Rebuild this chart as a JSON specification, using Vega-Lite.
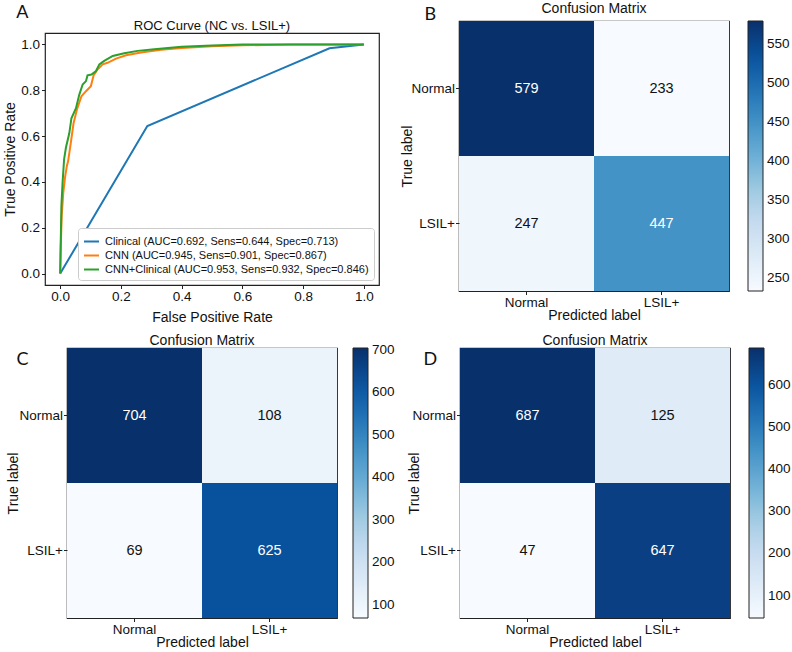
{
"$schema": "https://vega.github.io/schema/vega-lite/v6.json",
"background": "white",
"padding": {"left": 3, "top": 1, "right": 0, "bottom": 0},
"config": {
  "font": "Liberation Sans",
  "view": {"stroke": "#222", "strokeWidth": 1.2},
  "axis": {"grid": false, "domain": false, "tickColor": "#222", "tickSize": 3.5, "labelFontSize": 13.5, "labelColor": "#111", "titleFontSize": 14, "titleFontWeight": "normal", "titleColor": "#111", "labelPadding": 1, "titlePadding": 1},
  "title": {"fontSize": 14, "fontWeight": "normal", "color": "#111"},
  "legend": {"labelFontSize": 13.5, "labelColor": "#111"}
},
"datasets": {
  "spacer": [],
  "roc": [
    {"model": "Clinical (AUC=0.692, Sens=0.644, Spec=0.713)", "i": 0, "fpr": 0, "tpr": 0},
    {"model": "Clinical (AUC=0.692, Sens=0.644, Spec=0.713)", "i": 1, "fpr": 0.287, "tpr": 0.644},
    {"model": "Clinical (AUC=0.692, Sens=0.644, Spec=0.713)", "i": 2, "fpr": 0.887, "tpr": 0.983},
    {"model": "Clinical (AUC=0.692, Sens=0.644, Spec=0.713)", "i": 3, "fpr": 1, "tpr": 1},
    {"model": "CNN (AUC=0.945, Sens=0.901, Spec=0.867)", "i": 0, "fpr": 0, "tpr": 0},
    {"model": "CNN (AUC=0.945, Sens=0.901, Spec=0.867)", "i": 1, "fpr": 0.002, "tpr": 0.12},
    {"model": "CNN (AUC=0.945, Sens=0.901, Spec=0.867)", "i": 2, "fpr": 0.005, "tpr": 0.25},
    {"model": "CNN (AUC=0.945, Sens=0.901, Spec=0.867)", "i": 3, "fpr": 0.01, "tpr": 0.35},
    {"model": "CNN (AUC=0.945, Sens=0.901, Spec=0.867)", "i": 4, "fpr": 0.016, "tpr": 0.42},
    {"model": "CNN (AUC=0.945, Sens=0.901, Spec=0.867)", "i": 5, "fpr": 0.022, "tpr": 0.47},
    {"model": "CNN (AUC=0.945, Sens=0.901, Spec=0.867)", "i": 6, "fpr": 0.026, "tpr": 0.49},
    {"model": "CNN (AUC=0.945, Sens=0.901, Spec=0.867)", "i": 7, "fpr": 0.035, "tpr": 0.57},
    {"model": "CNN (AUC=0.945, Sens=0.901, Spec=0.867)", "i": 8, "fpr": 0.044, "tpr": 0.656},
    {"model": "CNN (AUC=0.945, Sens=0.901, Spec=0.867)", "i": 9, "fpr": 0.055, "tpr": 0.715},
    {"model": "CNN (AUC=0.945, Sens=0.901, Spec=0.867)", "i": 10, "fpr": 0.07, "tpr": 0.774},
    {"model": "CNN (AUC=0.945, Sens=0.901, Spec=0.867)", "i": 11, "fpr": 0.085, "tpr": 0.796},
    {"model": "CNN (AUC=0.945, Sens=0.901, Spec=0.867)", "i": 12, "fpr": 0.101, "tpr": 0.818},
    {"model": "CNN (AUC=0.945, Sens=0.901, Spec=0.867)", "i": 13, "fpr": 0.11, "tpr": 0.865},
    {"model": "CNN (AUC=0.945, Sens=0.901, Spec=0.867)", "i": 14, "fpr": 0.123, "tpr": 0.891},
    {"model": "CNN (AUC=0.945, Sens=0.901, Spec=0.867)", "i": 15, "fpr": 0.14, "tpr": 0.913},
    {"model": "CNN (AUC=0.945, Sens=0.901, Spec=0.867)", "i": 16, "fpr": 0.156, "tpr": 0.92},
    {"model": "CNN (AUC=0.945, Sens=0.901, Spec=0.867)", "i": 17, "fpr": 0.184, "tpr": 0.938},
    {"model": "CNN (AUC=0.945, Sens=0.901, Spec=0.867)", "i": 18, "fpr": 0.217, "tpr": 0.953},
    {"model": "CNN (AUC=0.945, Sens=0.901, Spec=0.867)", "i": 19, "fpr": 0.266, "tpr": 0.965},
    {"model": "CNN (AUC=0.945, Sens=0.901, Spec=0.867)", "i": 20, "fpr": 0.332, "tpr": 0.977},
    {"model": "CNN (AUC=0.945, Sens=0.901, Spec=0.867)", "i": 21, "fpr": 0.4, "tpr": 0.984},
    {"model": "CNN (AUC=0.945, Sens=0.901, Spec=0.867)", "i": 22, "fpr": 0.5, "tpr": 0.992},
    {"model": "CNN (AUC=0.945, Sens=0.901, Spec=0.867)", "i": 23, "fpr": 0.6, "tpr": 0.996},
    {"model": "CNN (AUC=0.945, Sens=0.901, Spec=0.867)", "i": 24, "fpr": 0.76, "tpr": 1},
    {"model": "CNN (AUC=0.945, Sens=0.901, Spec=0.867)", "i": 25, "fpr": 1, "tpr": 1},
    {"model": "CNN+Clinical (AUC=0.953, Sens=0.932, Spec=0.846)", "i": 0, "fpr": 0, "tpr": 0},
    {"model": "CNN+Clinical (AUC=0.953, Sens=0.932, Spec=0.846)", "i": 1, "fpr": 0.002, "tpr": 0.15},
    {"model": "CNN+Clinical (AUC=0.953, Sens=0.932, Spec=0.846)", "i": 2, "fpr": 0.004, "tpr": 0.296},
    {"model": "CNN+Clinical (AUC=0.953, Sens=0.932, Spec=0.846)", "i": 3, "fpr": 0.008, "tpr": 0.4},
    {"model": "CNN+Clinical (AUC=0.953, Sens=0.932, Spec=0.846)", "i": 4, "fpr": 0.013, "tpr": 0.5},
    {"model": "CNN+Clinical (AUC=0.953, Sens=0.932, Spec=0.846)", "i": 5, "fpr": 0.019, "tpr": 0.55},
    {"model": "CNN+Clinical (AUC=0.953, Sens=0.932, Spec=0.846)", "i": 6, "fpr": 0.03, "tpr": 0.612},
    {"model": "CNN+Clinical (AUC=0.953, Sens=0.932, Spec=0.846)", "i": 7, "fpr": 0.037, "tpr": 0.678},
    {"model": "CNN+Clinical (AUC=0.953, Sens=0.932, Spec=0.846)", "i": 8, "fpr": 0.052, "tpr": 0.722},
    {"model": "CNN+Clinical (AUC=0.953, Sens=0.932, Spec=0.846)", "i": 9, "fpr": 0.063, "tpr": 0.781},
    {"model": "CNN+Clinical (AUC=0.953, Sens=0.932, Spec=0.846)", "i": 10, "fpr": 0.074, "tpr": 0.825},
    {"model": "CNN+Clinical (AUC=0.953, Sens=0.932, Spec=0.846)", "i": 11, "fpr": 0.085, "tpr": 0.84},
    {"model": "CNN+Clinical (AUC=0.953, Sens=0.932, Spec=0.846)", "i": 12, "fpr": 0.09, "tpr": 0.865},
    {"model": "CNN+Clinical (AUC=0.953, Sens=0.932, Spec=0.846)", "i": 13, "fpr": 0.103, "tpr": 0.869},
    {"model": "CNN+Clinical (AUC=0.953, Sens=0.932, Spec=0.846)", "i": 14, "fpr": 0.118, "tpr": 0.884},
    {"model": "CNN+Clinical (AUC=0.953, Sens=0.932, Spec=0.846)", "i": 15, "fpr": 0.129, "tpr": 0.913},
    {"model": "CNN+Clinical (AUC=0.953, Sens=0.932, Spec=0.846)", "i": 16, "fpr": 0.145, "tpr": 0.928},
    {"model": "CNN+Clinical (AUC=0.953, Sens=0.932, Spec=0.846)", "i": 17, "fpr": 0.173, "tpr": 0.95},
    {"model": "CNN+Clinical (AUC=0.953, Sens=0.932, Spec=0.846)", "i": 18, "fpr": 0.211, "tpr": 0.962},
    {"model": "CNN+Clinical (AUC=0.953, Sens=0.932, Spec=0.846)", "i": 19, "fpr": 0.255, "tpr": 0.972},
    {"model": "CNN+Clinical (AUC=0.953, Sens=0.932, Spec=0.846)", "i": 20, "fpr": 0.31, "tpr": 0.979},
    {"model": "CNN+Clinical (AUC=0.953, Sens=0.932, Spec=0.846)", "i": 21, "fpr": 0.4, "tpr": 0.99},
    {"model": "CNN+Clinical (AUC=0.953, Sens=0.932, Spec=0.846)", "i": 22, "fpr": 0.5, "tpr": 0.995},
    {"model": "CNN+Clinical (AUC=0.953, Sens=0.932, Spec=0.846)", "i": 23, "fpr": 0.6, "tpr": 1},
    {"model": "CNN+Clinical (AUC=0.953, Sens=0.932, Spec=0.846)", "i": 24, "fpr": 1, "tpr": 1}
  ],
  "b": [
    {"truth": "Normal", "pred": "Normal", "v": 579},
    {"truth": "Normal", "pred": "LSIL+", "v": 233},
    {"truth": "LSIL+", "pred": "Normal", "v": 247},
    {"truth": "LSIL+", "pred": "LSIL+", "v": 447}
  ],
  "c": [
    {"truth": "Normal", "pred": "Normal", "v": 704},
    {"truth": "Normal", "pred": "LSIL+", "v": 108},
    {"truth": "LSIL+", "pred": "Normal", "v": 69},
    {"truth": "LSIL+", "pred": "LSIL+", "v": 625}
  ],
  "d": [
    {"truth": "Normal", "pred": "Normal", "v": 687},
    {"truth": "Normal", "pred": "LSIL+", "v": 125},
    {"truth": "LSIL+", "pred": "Normal", "v": 47},
    {"truth": "LSIL+", "pred": "LSIL+", "v": 647}
  ]
},
"columns": 1,
"align": "none",
"resolve": {"scale": {"color": "independent"}, "legend": {"color": "independent"}},
"spacing": 8,
"concat": [
  {
    "title": {"text": "A", "anchor": "start", "fontSize": 18, "font": "Lato", "dx": 13, "dy": 21, "offset": 0},
    "spacing": 20,
    "align": "none",
    "resolve": {"scale": {"color": "independent"}, "legend": {"color": "independent"}},
    "hconcat": [
      {
        "spacing": -65,
        "align": "none",
        "resolve": {"scale": {"color": "independent"}, "legend": {"color": "independent"}},
        "hconcat": [
          {"width": 1, "height": 1, "view": {"stroke": null}, "data": {"name": "spacer"}, "mark": "point"},
          {
            "title": {"text": "ROC Curve (NC vs. LSIL+)", "fontSize": 13, "offset": 0},
            "width": 334, "height": 252,
            "data": {"name": "roc"},
            "mark": {"type": "line", "strokeWidth": 2},
            "encoding": {
              "x": {"field": "fpr", "type": "quantitative", "scale": {"domain": [-0.05, 1.05], "nice": false, "zero": false}, "axis": {"values": [0, 0.2, 0.4, 0.6, 0.8, 1], "format": ".1f", "title": "False Positive Rate", "titlePadding": 7}},
              "y": {"field": "tpr", "type": "quantitative", "scale": {"domain": [-0.05, 1.05], "nice": false, "zero": false}, "axis": {"values": [0, 0.2, 0.4, 0.6, 0.8, 1], "format": ".1f", "title": "True Positive Rate", "titlePadding": 3, "labelPadding": 2}},
              "color": {"field": "model", "type": "nominal",
                "scale": {"domain": ["Clinical (AUC=0.692, Sens=0.644, Spec=0.713)", "CNN (AUC=0.945, Sens=0.901, Spec=0.867)", "CNN+Clinical (AUC=0.953, Sens=0.932, Spec=0.846)"], "range": ["#1f77b4", "#ff7f0e", "#2ca02c"]},
                "legend": {"title": null, "orient": "bottom-right", "offset": 5, "symbolType": "stroke", "symbolStrokeWidth": 2, "symbolSize": 225, "labelFontSize": 11, "rowPadding": 0, "padding": 5, "strokeColor": "#ccc", "fillColor": "white", "cornerRadius": 3, "labelLimit": 400, "labelOffset": 5}},
              "order": {"field": "i", "type": "quantitative"}
            }
          }
        ]
      },
      {
        "title": {"text": "B", "anchor": "start", "fontSize": 18, "font": "Lato", "dx": 24, "dy": 23, "offset": 0},
        "spacing": -33,
        "align": "none",
        "resolve": {"scale": {"color": "independent"}, "legend": {"color": "independent"}},
        "vconcat": [
          {"width": 1, "height": 1, "view": {"stroke": null}, "data": {"name": "spacer"}, "mark": "point"},
          {
            "title": {"text": "Confusion Matrix", "offset": 5},
            "width": 270, "height": 270,
            "data": {"name": "b"},
            "encoding": {
              "x": {"field": "pred", "type": "nominal", "sort": ["Normal", "LSIL+"], "scale": {"paddingInner": 0, "paddingOuter": 0}, "axis": {"labelAngle": 0, "title": "Predicted label", "bandPosition": 0.5, "titlePadding": -1}},
              "y": {"field": "truth", "type": "nominal", "sort": ["Normal", "LSIL+"], "scale": {"paddingInner": 0, "paddingOuter": 0}, "axis": {"title": "True label", "bandPosition": 0.5, "titlePadding": -4}}
            },
            "layer": [
              {"mark": "rect", "encoding": {"color": {"field": "v", "type": "quantitative", "scale": {"domain": [233, 579], "range": ["#f7fbff", "#deebf7", "#c6dbef", "#9ecae1", "#6baed6", "#4292c6", "#2171b5", "#08519c", "#08306b"]}, "legend": {"title": null, "orient": "right", "offset": 19, "gradientLength": 270, "gradientThickness": 15, "values": [250, 300, 350, 400, 450, 500, 550], "gradientStrokeColor": "#222", "gradientStrokeWidth": 1, "labelOverlap": false, "labelOffset": 4}}}},
              {"mark": {"type": "text", "fontSize": 14.5}, "encoding": {"text": {"field": "v"}, "color": {"condition": {"test": "datum.v > 289.5", "value": "white"}, "value": "#111"}}}
            ]
          }
        ]
      }
    ]
  },
  {
    "spacing": 11,
    "align": "none",
    "resolve": {"scale": {"color": "independent"}, "legend": {"color": "independent"}},
    "hconcat": [
      {
        "title": {"text": "C", "anchor": "start", "fontSize": 18, "font": "Lato", "dx": 10, "dy": 36, "offset": 0},
        "resolve": {"scale": {"color": "independent"}, "legend": {"color": "independent"}},
        "vconcat": [
          {
            "title": {"text": "Confusion Matrix", "offset": 0},
            "width": 270, "height": 270,
            "data": {"name": "c"},
            "encoding": {
              "x": {"field": "pred", "type": "nominal", "sort": ["Normal", "LSIL+"], "scale": {"paddingInner": 0, "paddingOuter": 0}, "axis": {"labelAngle": 0, "title": "Predicted label", "bandPosition": 0.5, "titlePadding": -1}},
              "y": {"field": "truth", "type": "nominal", "sort": ["Normal", "LSIL+"], "scale": {"paddingInner": 0, "paddingOuter": 0}, "axis": {"title": "True label", "bandPosition": 0.5, "titlePadding": -2}}
            },
            "layer": [
              {"mark": "rect", "encoding": {"color": {"field": "v", "type": "quantitative", "scale": {"domain": [69, 704], "range": ["#f7fbff", "#deebf7", "#c6dbef", "#9ecae1", "#6baed6", "#4292c6", "#2171b5", "#08519c", "#08306b"]}, "legend": {"title": null, "orient": "right", "offset": 16, "gradientLength": 270, "gradientThickness": 15, "values": [100, 200, 300, 400, 500, 600, 700], "gradientStrokeColor": "#222", "gradientStrokeWidth": 1, "labelOverlap": false, "labelOffset": 4}}}},
              {"mark": {"type": "text", "fontSize": 14.5}, "encoding": {"text": {"field": "v"}, "color": {"condition": {"test": "datum.v > 352", "value": "white"}, "value": "#111"}}}
            ]
          }
        ]
      },
      {
        "title": {"text": "D", "anchor": "start", "fontSize": 18, "font": "Lato", "dx": 16, "dy": 36, "offset": 0},
        "resolve": {"scale": {"color": "independent"}, "legend": {"color": "independent"}},
        "vconcat": [
          {
            "title": {"text": "Confusion Matrix", "offset": 0},
            "width": 270, "height": 270,
            "data": {"name": "d"},
            "encoding": {
              "x": {"field": "pred", "type": "nominal", "sort": ["Normal", "LSIL+"], "scale": {"paddingInner": 0, "paddingOuter": 0}, "axis": {"labelAngle": 0, "title": "Predicted label", "bandPosition": 0.5, "titlePadding": -1}},
              "y": {"field": "truth", "type": "nominal", "sort": ["Normal", "LSIL+"], "scale": {"paddingInner": 0, "paddingOuter": 0}, "axis": {"title": "True label", "bandPosition": 0.5, "titlePadding": -10}}
            },
            "layer": [
              {"mark": "rect", "encoding": {"color": {"field": "v", "type": "quantitative", "scale": {"domain": [47, 687], "range": ["#f7fbff", "#deebf7", "#c6dbef", "#9ecae1", "#6baed6", "#4292c6", "#2171b5", "#08519c", "#08306b"]}, "legend": {"title": null, "orient": "right", "offset": 19, "gradientLength": 270, "gradientThickness": 15, "values": [100, 200, 300, 400, 500, 600], "gradientStrokeColor": "#222", "gradientStrokeWidth": 1, "labelOverlap": false, "labelOffset": 4}}}},
              {"mark": {"type": "text", "fontSize": 14.5}, "encoding": {"text": {"field": "v"}, "color": {"condition": {"test": "datum.v > 343.5", "value": "white"}, "value": "#111"}}}
            ]
          }
        ]
      }
    ]
  }
]
}
